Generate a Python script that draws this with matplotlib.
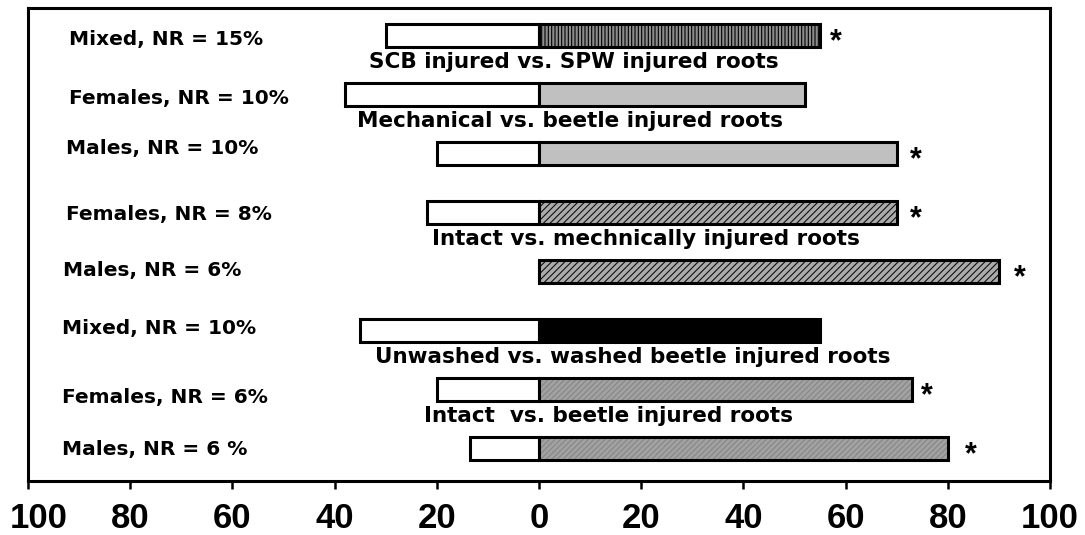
import matplotlib
matplotlib.use("Agg")
import matplotlib.pyplot as plt
from matplotlib.transforms import ScaledTranslation

plt.rcParams['font.family'] = ['Liberation Sans', 'DejaVu Sans']
plt.rcParams['font.weight'] = 'bold'
plt.rcParams['hatch.linewidth'] = 0.8

# ---- data (top row first) ----
group_labels = ["Mixed, NR = 15%", "Females, NR = 10%", "Males, NR = 10%",
                "Females, NR = 8%", "Males, NR = 6%", "Mixed, NR = 10%",
                "Females, NR = 6%", "Males, NR = 6 %"]
left_values = [-30, -38, -20, -22, 0, -35, -20, -13.5]   # first choice (%)
right_values = [55, 52, 70, 70, 90, 55, 73, 80]         # second choice (%)
significant = [True, False, True, True, True, False, True, True]

comparison_labels = ["SCB injured vs. SPW injured roots",
                     "Mechanical vs. beetle injured roots",
                     "Intact vs. mechnically injured roots",
                     "Unwashed vs. washed beetle injured roots",
                     "Intact  vs. beetle injured roots"]
comparison_after_row = [0, 1, 3, 5, 6]       # label sits below this row index
comparison_x = [-33.3, -35.6, -21.0, -32.0, -22.5]

tick_values = [-100, -80, -60, -40, -20, 0, 20, 40, 60, 80, 100]
tick_labels = ["100", "80", "60", "40", "20", "0", "20", "40", "60", "80", "100"]

# ---- styles ----
fills = [
    dict(face='#8c8c8c', hatch='|||||', hcol='black'),
    dict(face='#c0c0c0', hatch=None, hcol=None),
    dict(face='#c0c0c0', hatch=None, hcol=None),
    dict(face='#ababab', hatch='/////', hcol='#101010'),
    dict(face='#ababab', hatch='/////', hcol='#101010'),
    dict(face='black', hatch=None, hcol=None),
    dict(face='#a2a2a2', hatch='//////', hcol='#868686'),
    dict(face='#a2a2a2', hatch='//////', hcol='#868686'),
]
label_x = [-92.0, -92.0, -92.6, -92.6, -93.2, -93.4, -93.4, -93.4]
label_dy = [-0.076, -0.06, 0.093, -0.04, 0.025, 0.04, -0.144, -0.025]
star_dx = [2.0, 0, 2.6, 2.6, 3.0, 0, 1.7, 3.4]
wide_font = ['DejaVu Sans']

fig = plt.figure(figsize=(10.85, 5.35), dpi=100)
ax = fig.add_axes([28 / 1085, 54 / 535, 1022 / 1085, 473 / 535])

n = len(group_labels)
ypos = [n - 1 - i for i in range(n)]
h = 0.375
lw = 2.2

for i in range(n):
    y = ypos[i]
    ax.barh(y, left_values[i], height=h, left=0, color='white',
            edgecolor='black', linewidth=lw, zorder=2)
    f = fills[i]
    if f['hatch']:
        ax.barh(y, right_values[i], height=h, left=0, color=f['face'],
                hatch=f['hatch'], edgecolor=f['hcol'], linewidth=0, zorder=2)
        ax.barh(y, right_values[i], height=h, left=0, fill=False,
                edgecolor='black', linewidth=lw, zorder=3)
    else:
        ax.barh(y, right_values[i], height=h, left=0, color=f['face'],
                edgecolor='black', linewidth=lw, zorder=3)
    if significant[i]:
        ax.text(right_values[i] + star_dx[i], y - 0.12, "*", fontsize=22,
                fontweight='bold', ha='left', va='center')
    ax.text(label_x[i], y + label_dy[i], group_labels[i], fontsize=14.5,
            family=wide_font, fontweight='bold', ha='left', va='center')

for lab, r, x in zip(comparison_labels, comparison_after_row, comparison_x):
    y = ypos[r] - 0.45
    ax.text(x, y, lab, fontsize=15.5, family=wide_font, fontweight='bold',
            ha='left', va='center')

ax.set_xlim(-100, 100)
ax.set_ylim(-0.551, 7.466)
ax.set_yticks([])
ax.set_xticks(tick_values)
ax.set_xticklabels(tick_labels, fontsize=25, fontweight='bold')
ax.tick_params(axis='x', direction='out', length=6, width=1.8, pad=9)
for sp in ax.spines.values():
    sp.set_linewidth(2.2)

# first label is nudged right in the original so it stays inside the figure
lbls = ax.get_xticklabels()
lbls[0].set_transform(lbls[0].get_transform() + ScaledTranslation(0.11, 0, fig.dpi_scale_trans))

fig.savefig("out.png", dpi=100)
